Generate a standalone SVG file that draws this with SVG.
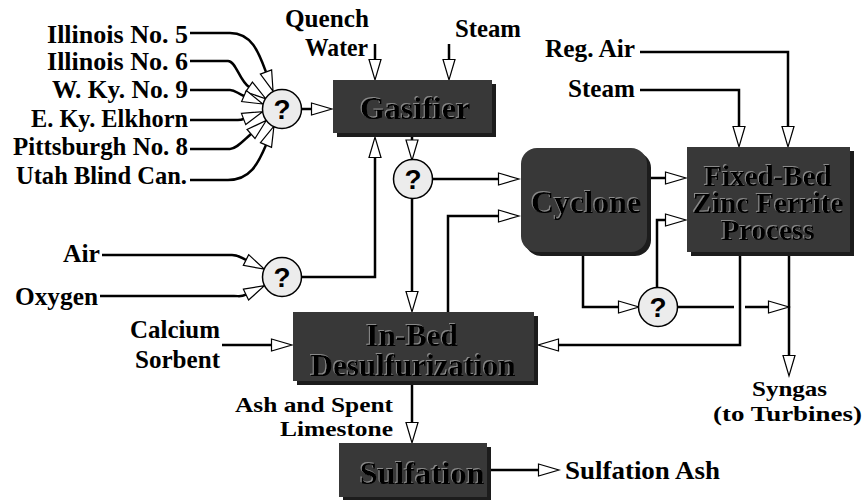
<svg xmlns="http://www.w3.org/2000/svg" width="866" height="500" viewBox="0 0 866 500">
<style>
.lbl{font-weight:bold;font-size:25px;fill:#000}
.sm{font-size:22px}
.box{fill:#383838}
.shd{fill:#1c1c1c}
.bt{font-weight:bold;font-size:32px;fill:#000;text-anchor:middle;filter:url(#emb)}
.fb{font-size:29px}
.ib{font-size:31px}
.q{fill:#ececec;stroke:#000;stroke-width:1.5}
.qt{font-weight:bold;font-size:28px;fill:#000;text-anchor:middle}
.c{fill:none;stroke:#000;stroke-width:2.5;marker-end:url(#ah)}
.end{text-anchor:end}
</style>
<defs>
<marker id="ah" markerUnits="userSpaceOnUse" markerWidth="23" markerHeight="14" refX="0.6" refY="7" orient="auto" overflow="visible">
<path d="M0.6,1 L21,7 L0.6,13 Z" fill="#fff" stroke="#000" stroke-width="1.2"/>
</marker>
<filter id="emb" x="-10%" y="-20%" width="120%" height="140%">
<feOffset in="SourceAlpha" dx="-1.5" dy="-1.5" result="o"/>
<feFlood flood-color="#8a8a8a"/>
<feComposite in2="o" operator="in" result="g"/>
<feMerge><feMergeNode in="g"/><feMergeNode in="SourceGraphic"/></feMerge>
</filter>
</defs>

<g id="connectors">
<path class="c" d="M190,33 H230 C252,33 259,53 266,72"/>
<path class="c" d="M190,61 H228 C236,61 239,80 249,87"/>
<path class="c" d="M190,90 H230 C235,90 237,93 244,96"/>
<path class="c" d="M190,120 H238 Q241,120 243.6,119"/>
<path class="c" d="M190,149 H230 C236,149 242,142 251,134"/>
<path class="c" d="M190,180 H228 C250,180 258,164 266,145"/>
<path class="c" d="M102,255 H232 C238,255 240,257 246,260"/>
<path class="c" d="M100,296 H234 C240,296 241,297 246,294.6"/>
<path class="c" d="M301.5,109 H311.5"/>
<path class="c" d="M375,44 V59.5"/>
<path class="c" d="M449,44 V59.5"/>
<path class="c" d="M412,137 V140"/>
<path class="c" d="M432,179 H498.5"/>
<path class="c" d="M412,198.5 V291.5"/>
<path class="c" d="M301.5,277 H375 V157.5"/>
<path class="c" d="M448,312 V216 H498.5"/>
<path class="c" d="M740,256 V345 H558.5"/>
<path class="c" d="M651,178 H665.5"/>
<path class="c" d="M583,256 V307 H618.5"/>
<path class="c" d="M657,288 V220 H665.5"/>
<path class="c" d="M678,307 H734 M745,307 H768.5"/>
<path class="c" d="M789,256 V355.5"/>
<path class="c" d="M640,52 H788 V126.5"/>
<path class="c" d="M640,90 H739 V126.5"/>
<path class="c" d="M222,345 H271.5"/>
<path class="c" d="M412,385 V422.5"/>
<path class="c" d="M491,470 H538.5"/>
</g>

<g id="labels">
<text class="lbl end" style="font-family:'Liberation Serif',serif" x="188" y="43" textLength="141" lengthAdjust="spacingAndGlyphs">Illinois No. 5</text>
<text class="lbl end" style="font-family:'Liberation Serif',serif" x="188" y="70" textLength="141" lengthAdjust="spacingAndGlyphs">Illinois No. 6</text>
<text class="lbl end" style="font-family:'Liberation Serif',serif" x="188" y="98" textLength="136" lengthAdjust="spacingAndGlyphs">W. Ky. No. 9</text>
<text class="lbl end" style="font-family:'Liberation Serif',serif" x="188" y="127" textLength="157" lengthAdjust="spacingAndGlyphs">E. Ky. Elkhorn</text>
<text class="lbl end" style="font-family:'Liberation Serif',serif" x="188" y="155" textLength="175" lengthAdjust="spacingAndGlyphs">Pittsburgh No. 8</text>
<text class="lbl end" style="font-family:'Liberation Serif',serif" x="187" y="184" textLength="171" lengthAdjust="spacingAndGlyphs">Utah Blind Can.</text>
<text class="lbl" style="font-family:'Liberation Serif',serif"><tspan x="285" y="27" textLength="84" lengthAdjust="spacingAndGlyphs">Quench</tspan><tspan x="305" y="56" textLength="63" lengthAdjust="spacingAndGlyphs">Water</tspan></text>
<text class="lbl" style="font-family:'Liberation Serif',serif" x="455" y="37" textLength="66" lengthAdjust="spacingAndGlyphs">Steam</text>
<text class="lbl" style="font-family:'Liberation Serif',serif" x="545" y="57" textLength="90" lengthAdjust="spacingAndGlyphs">Reg. Air</text>
<text class="lbl" style="font-family:'Liberation Serif',serif" x="568" y="97" textLength="67" lengthAdjust="spacingAndGlyphs">Steam</text>
<text class="lbl end" style="font-family:'Liberation Serif',serif" x="100" y="262" textLength="37" lengthAdjust="spacingAndGlyphs">Air</text>
<text class="lbl" style="font-family:'Liberation Serif',serif" x="15" y="305" textLength="83" lengthAdjust="spacingAndGlyphs">Oxygen</text>
<text class="lbl" style="font-family:'Liberation Serif',serif"><tspan x="130" y="338" textLength="90" lengthAdjust="spacingAndGlyphs">Calcium</tspan><tspan x="135" y="368" textLength="85" lengthAdjust="spacingAndGlyphs">Sorbent</tspan></text>
<text class="lbl sm" style="font-family:'Liberation Serif',serif"><tspan x="235" y="412" textLength="158" lengthAdjust="spacingAndGlyphs">Ash and Spent</tspan><tspan x="280" y="436" textLength="113" lengthAdjust="spacingAndGlyphs">Limestone</tspan></text>
<text class="lbl" style="font-family:'Liberation Serif',serif" x="565" y="479" textLength="155" lengthAdjust="spacingAndGlyphs">Sulfation Ash</text>
<text class="lbl sm" style="font-family:'Liberation Serif',serif"><tspan x="752" y="396" textLength="75" lengthAdjust="spacingAndGlyphs">Syngas</tspan><tspan x="713" y="421" textLength="149" lengthAdjust="spacingAndGlyphs">(to Turbines)</tspan></text>
</g>

<g id="gasifier">
<rect class="shd" x="337" y="84" width="159" height="53"/>
<rect class="box" x="333" y="80" width="159" height="53"/>
<text class="bt" style="font-family:'Liberation Serif',serif" x="415" y="119">Gasifier</text>
</g>
<g id="cyclone">
<rect class="shd" x="525" y="152" width="126" height="104" rx="16"/>
<rect class="box" x="521" y="148" width="126" height="104" rx="16"/>
<text class="bt" style="font-family:'Liberation Serif',serif" x="586" y="213">Cyclone</text>
</g>
<g id="fixed-bed">
<rect class="shd" x="691" y="151" width="163" height="105"/>
<rect class="box" x="687" y="147" width="163" height="105"/>
<text class="bt fb" style="font-family:'Liberation Serif',serif"><tspan x="768" y="186">Fixed-Bed</tspan><tspan x="768" y="213">Zinc Ferrite</tspan><tspan x="768" y="240">Process</tspan></text>
</g>
<g id="in-bed">
<rect class="shd" x="297" y="316" width="241" height="69"/>
<rect class="box" x="293" y="312" width="241" height="69"/>
<text class="bt ib" style="font-family:'Liberation Serif',serif"><tspan x="412" y="346">In-Bed</tspan><tspan x="413" y="376">Desulfurization</tspan></text>
</g>
<g id="sulfation">
<rect class="shd" x="343" y="447" width="148" height="54"/>
<rect class="box" x="339" y="443" width="148" height="54"/>
<text class="bt" style="font-family:'Liberation Serif',serif" x="422" y="484">Sulfation</text>
</g>
<g id="mix-coal">
<circle class="q" cx="282" cy="109" r="19.5"/>
<text class="qt" style="font-family:'Liberation Sans',sans-serif" x="282" y="119">?</text>
</g>
<g id="split-gas">
<circle class="q" cx="413" cy="179" r="19.5"/>
<text class="qt" style="font-family:'Liberation Sans',sans-serif" x="413" y="189">?</text>
</g>
<g id="mix-air">
<circle class="q" cx="282" cy="277" r="19.5"/>
<text class="qt" style="font-family:'Liberation Sans',sans-serif" x="282" y="287">?</text>
</g>
<g id="split-cyclone">
<circle class="q" cx="658" cy="307" r="19.5"/>
<text class="qt" style="font-family:'Liberation Sans',sans-serif" x="658" y="317">?</text>
</g>
</svg>
